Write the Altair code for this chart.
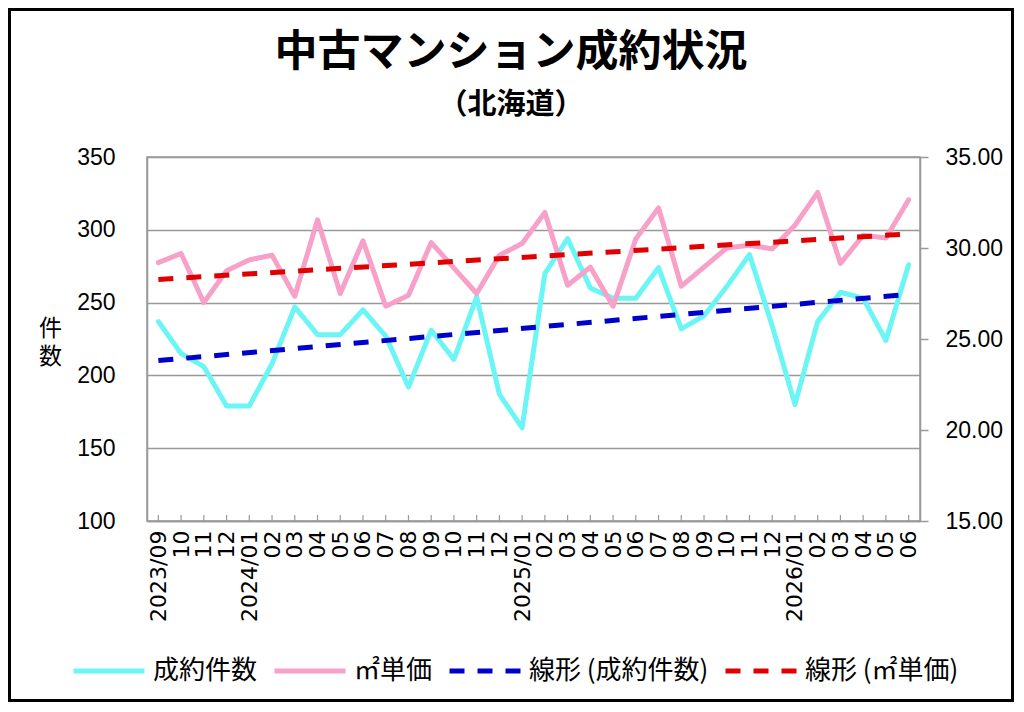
import pandas as pd
import altair as alt

FONT = "Noto Sans CJK JP"
NUM_FONT = "Liberation Sans"

months = ["2023/09", "10", "11", "12",
          "2024/01", "02", "03", "04", "05", "06", "07", "08", "09", "10", "11", "12",
          "2025/01", "02", "03", "04", "05", "06", "07", "08", "09", "10", "11", "12",
          "2026/01", "02", "03", "04", "05", "06"]

# 成約件数 (left axis)
counts = [237, 215, 206, 179, 179, 208, 247, 228, 228, 245, 227, 192, 231, 211, 254, 187,
          164, 270, 294, 260, 253, 253, 274, 232, 241, 261, 283, 234,
          180, 237, 257, 253, 224, 276]

# ㎡単価 (right axis)
prices = [29.20, 29.70, 27.00, 28.75, 29.35, 29.60, 27.35, 31.55, 27.50, 30.40, 26.80, 27.40,
          30.30, 28.90, 27.50, 29.60, 30.25, 31.95, 27.95, 28.95, 26.80, 30.50, 32.20, 27.90,
          28.95, 30.00, 30.15, 29.95, 31.25, 33.05, 29.15, 30.70, 30.55, 32.65]

series = ["成約件数", "㎡単価", "線形 (成約件数)", "線形 (㎡単価)"]
colors = ["#6cf5f5", "#f7a0c8", "#0000cc", "#e00000"]
dashes = [[1, 0], [1, 0], [15, 13], [15, 13]]
widths = [5, 5, 4, 4]

title_text = "中古マンション成約状況"
subtitle_text = "（北海道）"

df = pd.DataFrame({"idx": range(len(months)), "label": months,
                   "cnt": counts, "price": prices})

W, H = 773, 364
label_expr = "[" + ",".join("'%s'" % m for m in months) + "][datum.value]"

x = alt.X("idx:Q",
          scale=alt.Scale(domain=[-0.5, len(months) - 0.5], nice=False, zero=False),
          axis=alt.Axis(values=list(range(len(months))), labelExpr=label_expr,
                        labelAngle=-90, labelPadding=9, ticks=False, grid=False,
                        domainColor="#999999", domainWidth=1.5,
                        labelFont="DejaVu Sans", labelFontSize=22,
                        labelColor="black", title=None))

leg = alt.Legend(title=None, orient="none", direction="horizontal", columns=4,
                 legendX=-76, legendY=476, symbolType="stroke", symbolSize=5041,
                 labelFontSize=26, labelColor="black", labelFont=FONT, labelLimit=400,
                 labelOffset=6, columnPadding=6, symbolStrokeWidth=5)

color = alt.Color("series:N", scale=alt.Scale(domain=series, range=colors), legend=leg)
dash = alt.StrokeDash("series:N", scale=alt.Scale(domain=series, range=dashes), legend=leg)
swidth = alt.StrokeWidth("series:N", scale=alt.Scale(domain=series, range=widths), legend=leg)

y_left = alt.Y("cnt:Q", scale=alt.Scale(domain=[100, 350], nice=False, zero=False),
               axis=alt.Axis(values=[100, 150, 200, 250, 300, 350], ticks=False,
                             gridColor="#999999", gridWidth=1.5,
                             domainColor="#999999", domainWidth=1.5,
                             labelFont=NUM_FONT, labelFontSize=23,
                             labelColor="black", labelPadding=32,
                             title=["件", "数"], titleAngle=0, titleFontSize=23,
                             titleFontWeight="normal", titleX=-97, titleY=160,
                             titleAlign="center", titleBaseline="top",
                             titleLineHeight=28))

y_right = alt.Y("price:Q", scale=alt.Scale(domain=[15, 35], nice=False, zero=False),
                axis=alt.Axis(orient="right", values=[15, 20, 25, 30, 35], format=".2f",
                              grid=False, tickSize=8, tickColor="#999999", tickWidth=1.5,
                              domainColor="#999999", domainWidth=1.5,
                              labelFont=NUM_FONT, labelFontSize=23,
                              labelColor="black", labelPadding=17, title=None))

base = alt.Chart(df)

cnt_line = base.mark_line(strokeCap="round", strokeJoin="round").transform_calculate(
    series="'成約件数'").encode(x=x, y=y_left, color=color, strokeDash=dash, strokeWidth=swidth)

cnt_trend = base.transform_regression(
    "idx", "cnt", extent=[0, len(months) - 1]).transform_calculate(
    series="'線形 (成約件数)'").mark_line().encode(
    x=x, y=y_left, color=color, strokeDash=dash, strokeWidth=swidth)

x_ticks = base.mark_rule(color="#999999", strokeWidth=1.2).encode(
    x=x, y=alt.value(H - 6), y2=alt.value(H))

price_line = base.mark_line(strokeCap="round", strokeJoin="round").transform_calculate(
    series="'㎡単価'").encode(x=x, y=y_right, color=color, strokeDash=dash, strokeWidth=swidth)

price_trend = base.transform_regression(
    "idx", "price", extent=[0, len(months) - 1]).transform_calculate(
    series="'線形 (㎡単価)'").mark_line().encode(
    x=x, y=y_right, color=color, strokeDash=dash, strokeWidth=swidth)

one = alt.Chart(pd.DataFrame({"f": [0]}))

frame = one.mark_rect(filled=False, stroke="black", strokeWidth=3).encode(
    x=alt.value(-137.5), x2=alt.value(W + 92.5),
    y=alt.value(-147.5), y2=alt.value(H + 179.5))

title = one.mark_text(text=title_text, font=FONT, fontSize=43, fontWeight="bold",
                      color="black", align="center", baseline="middle").encode(
    x=alt.value(364), y=alt.value(-104))

subtitle = one.mark_text(text=subtitle_text, font=FONT, fontSize=29, fontWeight="bold",
                         color="black", align="center", baseline="middle").encode(
    x=alt.value(364), y=alt.value(-52))

left = alt.layer(x_ticks, cnt_line, cnt_trend)
right = alt.layer(price_line, price_trend)

chart = alt.layer(left, right, frame, title, subtitle).resolve_scale(
    y="independent").properties(
    width=W, height=H,
    autosize=alt.AutoSizeParams(type="none"),
    padding={"left": 139, "top": 149, "right": 94, "bottom": 181},
).configure_view(stroke="#999999", strokeWidth=1.5).configure_axis(
    labelFont=FONT, titleFont=FONT, titleColor="black")

chart.save("out.html", embed_options={"renderer": "svg", "actions": False})
